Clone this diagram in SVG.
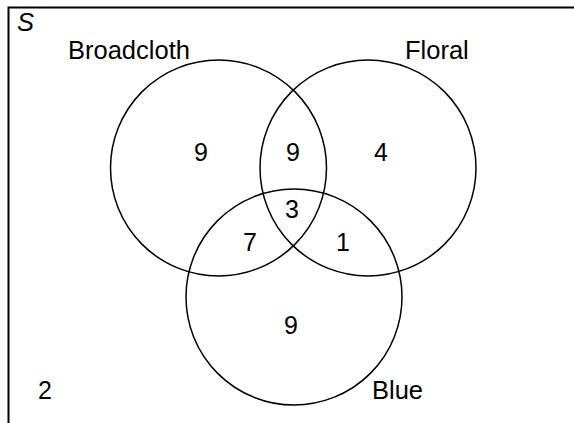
<svg xmlns="http://www.w3.org/2000/svg" width="574" height="423" viewBox="0 0 574 423">
<style>
.c{fill:none;stroke:#000;stroke-width:1.5}
.t{font-family:"Liberation Sans",Arial,sans-serif;font-size:25.5px;fill:#000}
.n{font-family:"Liberation Sans",Arial,sans-serif;font-size:25px;fill:#000;text-anchor:middle}
</style>
<rect width="574" height="423" fill="#fff"/>
<g id="frame">
<path d="M8.5 423 V7.5 H574" fill="none" stroke="#000" stroke-width="2"/>
<text x="17" y="31" class="t" font-style="italic" font-size="24">S</text>
</g>
<g id="broadcloth">
<circle class="c" cx="218.5" cy="168" r="108"/>
<text x="68" y="59" class="t">Broadcloth</text>
</g>
<g id="floral">
<circle class="c" cx="368" cy="168" r="108"/>
<text x="405" y="59" class="t">Floral</text>
</g>
<g id="blue">
<circle class="c" cx="294" cy="297" r="108"/>
<text x="372" y="399" class="t">Blue</text>
</g>
<g id="counts">
<text x="201" y="161" class="n">9</text>
<text x="293" y="161" class="n">9</text>
<text x="381" y="161" class="n">4</text>
<text x="292" y="218" class="n">3</text>
<text x="250" y="251" class="n">7</text>
<text x="343" y="251" class="n">1</text>
<text x="291" y="334" class="n">9</text>
<text x="45" y="399" class="n">2</text>
</g>
</svg>
